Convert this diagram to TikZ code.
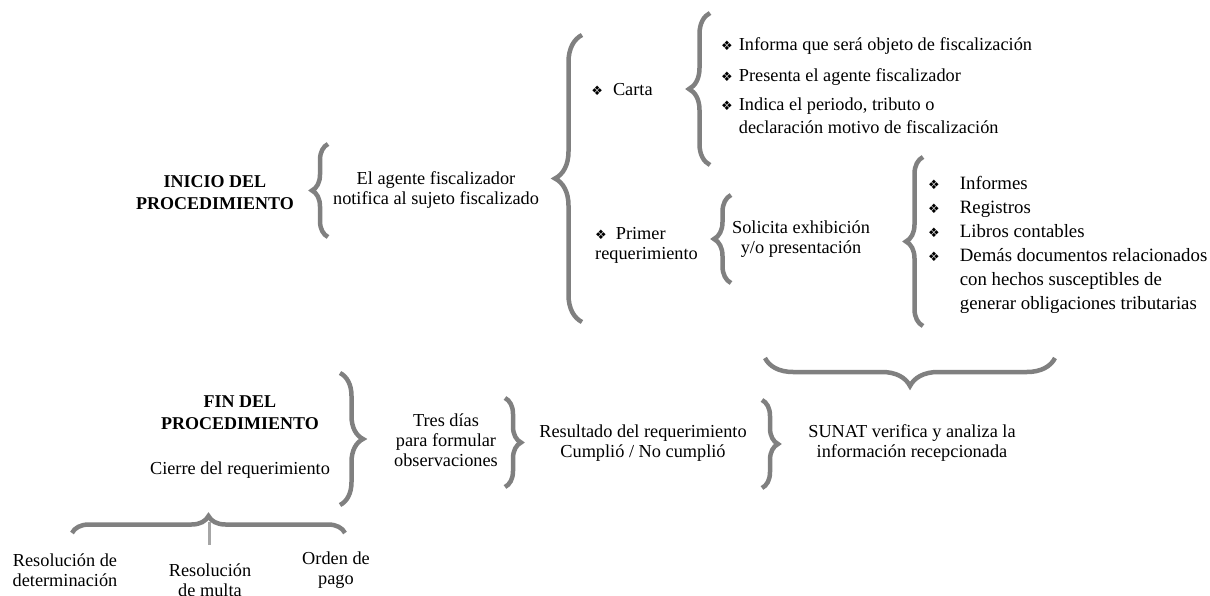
\documentclass[tikz,border=0pt]{standalone}
\usepackage{fontspec}
\setmainfont{Liberation Serif}
\newfontfamily\simbolo{DejaVu Sans}
\usetikzlibrary{decorations.pathreplacing}
\definecolor{llavegris}{RGB}{128,128,128}
\definecolor{lineagris}{RGB}{166,166,166}
\newcommand{\vineta}{{\simbolo\fontsize{13}{13}\selectfont\char"2756}}
\tikzset{
  llave/.style={decorate, decoration={brace, amplitude=#1}, draw=llavegris, line width=4.5pt},
  texto/.style={align=center, inner sep=0pt, font=\fontsize{18.3}{20}\selectfont},
  titulo/.style={align=center, inner sep=0pt, font=\fontsize{18}{22}\selectfont\bfseries},
}
\begin{document}
\begin{tikzpicture}[x=1pt, y=-1pt]
  \useasboundingbox (0,0) rectangle (1210,596);

  %%%%% INICIO %%%%%
  \node[titulo] (inicio) at (215,193) {INICIO DEL\\PROCEDIMIENTO};
  \draw[llave=16pt] (328,237) -- (328,144);
  \node[texto] (agente) at (436,190) {El agente fiscalizador\\notifica al sujeto fiscalizado};
  \draw[llave=27pt] (582,322) -- (582,35);

  \node[texto] (carta) at (622,90) {\vineta\hspace{10pt}Carta};
  \draw[llave=21pt] (710,165) -- (710,13);
  \node[texto, anchor=west] (cartalista) at (721,88) {%
    \begin{tabular}{@{}l@{\hspace{6pt}}l@{}}
      \vineta & Informa que será objeto de fiscalización\\[11pt]
      \vineta & Presenta el agente fiscalizador\\[9pt]
      \vineta & Indica el periodo, tributo o\\[3pt]
              & declaración motivo de fiscalización
    \end{tabular}};

  \node[texto, align=left, anchor=west] (primer) at (595,245) {\vineta\hspace{9pt}Primer\\requerimiento};
  \draw[llave=17pt] (731,283) -- (731,195);
  \node[texto] (solicita) at (801,239) {Solicita exhibición\\y/o presentación};
  \draw[llave=17pt] (923,326) -- (923,157);
  \node[texto, anchor=west] (informes) at (928,245) {%
    \fontsize{18.8}{24}\selectfont
    \begin{tabular}{@{}l@{\hspace{20pt}}l@{}}
      \vineta & Informes\\
      \vineta & Registros\\
      \vineta & Libros contables\\
      \vineta & Demás documentos relacionados\\
              & con hechos susceptibles de\\
              & generar obligaciones tributarias
    \end{tabular}};

  %%%%% VERIFICACION %%%%%
  \draw[llave=28pt] (1055,358) -- (765,358);
  \node[texto] (sunat) at (912,443) {SUNAT verifica y analiza la\\información recepcionada};
  \draw[llave=16pt] (762,400) -- (762,488);
  \node[texto] (resultado) at (643,443) {Resultado del requerimiento\\Cumplió / No cumplió};
  \draw[llave=16pt] (505,398) -- (505,487);
  \node[texto] (tresdias) at (446,440) {Tres días\\para formular\\observaciones};
  \draw[llave=23pt] (340,373) -- (340,505);

  %%%%% FIN %%%%%
  \node[titulo] (fin) at (240,413) {FIN DEL\\PROCEDIMIENTO};
  \node[texto] (cierre) at (240,470) {Cierre del requerimiento};
  \draw[llave=17pt] (72,533) -- (345,533);
  \coordinate (pico) at (209,522);
  \coordinate (pie) at (209,545);
  \draw[lineagris, line width=3pt] (pico) -- (pie);

  \node[texto] (determinacion) at (65,570) {Resolución de\\determinación};
  \node[texto] (multa) at (210,580) {Resolución\\de multa};
  \node[texto] (pago) at (336,570) {Orden de\\pago};
\end{tikzpicture}
\end{document}
